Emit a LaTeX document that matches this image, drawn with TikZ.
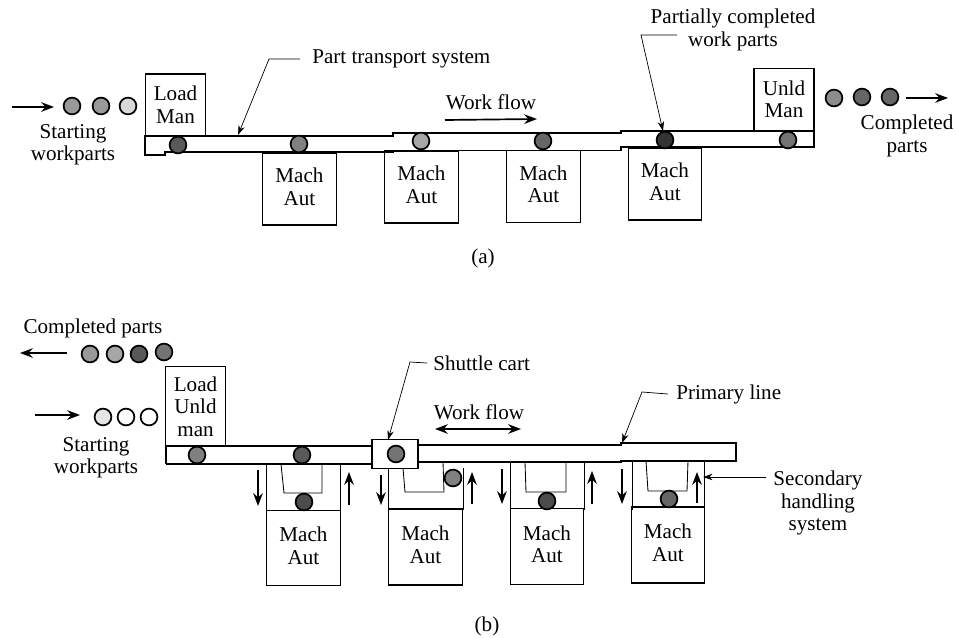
\documentclass[tikz,border=0pt]{standalone}
\usepackage{fontspec}
\setmainfont{Liberation Serif}
\usetikzlibrary{positioning, arrows.meta}

\begin{document}
\begin{tikzpicture}[
    x=0.025cm, y=-0.025cm,
    every node/.style={font=\fontsize{15}{16}\selectfont},
    machbox/.style={rectangle, draw, line width=0.8pt, minimum width=1.84cm, minimum height=#1, inner sep=0pt, align=center, execute at end node=\rule[-3.6pt]{0pt}{0pt}},
    manbox/.style={rectangle, draw, line width=0.8pt, minimum width=1.5cm, minimum height=#1, inner sep=0pt, align=center},
    part/.style={circle, draw, line width=1.2pt, fill=black!#1, minimum size=0.42cm, inner sep=0pt},
    lbl/.style={align=center, inner sep=0pt},
    arr/.style={-{Stealth[length=3.2mm, width=2.4mm]}, line width=1.2pt},
    biarr/.style={{Stealth[length=3.2mm, width=2.4mm]}-{Stealth[length=3.2mm, width=2.4mm]}, line width=1.2pt},
    lead/.style={-{Stealth[length=2.4mm, width=1.6mm]}, line width=0.5pt},
    track/.style={line width=0.8pt},
    rail/.style={line width=0.6pt},
]
\useasboundingbox (0,0) rectangle (956,638);

% (a) in-line
\draw[track] (145,136) -- (393,136) -- (393,133) -- (621,133) -- (621,131) -- (814,131) -- (814,147) -- (621,147) -- (621,150.5) -- (393,150.5) -- (393,152) -- (165,152) -- (165,155) -- (145,155) -- cycle;

\node[manbox=1.55cm] (loadman) at (175.5,105) {Load\\Man};
\node[manbox=1.55cm] (unldman) at (784,99.5) {Unld\\Man};
\node[machbox=1.8cm] (macha1) at (299.5,189) {Mach\\Aut};
\node[machbox=1.8cm] (macha2) at (421.5,187) {Mach\\Aut};
\node[machbox=1.8cm] (macha3) at (543.5,186.5) {Mach\\Aut};
\node[machbox=1.8cm] (macha4) at (665,184) {Mach\\Aut};

\foreach \x/\y/\s [count=\i] in {72/106/40, 101/106/40, 128/106/15, 178/145/65, 299/144/50, 421/141/35, 543/141/60, 665/140/80, 788/140/55, 834/98/45, 862/97/60, 890/97/60}
    \node[part=\s] (parta\i) at (\x,\y) {};

\node[lbl] (startlbla) at (73,145) {Starting\\workparts};
\node[lbl, anchor=west] (tracklbl) at (312,59) {Part transport system};
\node[lbl] (flowlbla) at (491,102) {Work flow};
\node[lbl] (partlbl) at (733,30) {Partially completed\\work parts};
\node[lbl] (donelbla) at (907,136) {Completed\\parts};
\node[lbl] (capa) at (483,258) {(a)};

\coordinate (instarta) at (12,107);
\coordinate (instarta2) at (54,107);
\coordinate (outdonea1) at (906,98);
\coordinate (outdonea) at (948,98);
\coordinate (flowa1) at (445,120);
\coordinate (flowa2) at (537,119);
\coordinate (trackpt) at (238,135);
\coordinate (partjog) at (677,35);
\coordinate (partpt) at (663,131);

\draw[arr] (instarta) -- (instarta2);
\draw[arr] (outdonea1) -- (outdonea);
\draw[arr] (flowa1) -- (flowa2);
\draw[lead] ([xshift=-0.3cm]tracklbl.west) -- (269,59) -- (trackpt);
\draw[lead] (partjog) -- (641,35) -- (partpt);

% (b) with shuttle cart
\draw[track] (166,446) -- (372,446);
\draw[track] (166,464) -- (372,464);
\draw[track] (166,446) -- (166,464);
\draw[track] (418,445) -- (621,445) -- (621,443) -- (736,443) -- (736,461) -- (621,461) -- (621,462) -- (418,462);

\node[manbox=1.98cm] (loadunld) at (195.5,406.5) {Load\\Unld\\man};
\node[rectangle, draw, line width=0.8pt, fill=white, minimum width=1.15cm, minimum height=0.72cm] (cart) at (395,454) {};
\node[machbox=1.88cm] (machb1) at (303.5,548) {Mach\\Aut};
\node[machbox=1.9cm] (machb2) at (425.5,547) {Mach\\Aut};
\node[machbox=1.92cm] (machb3) at (547,546.5) {Mach\\Aut};
\node[machbox=1.9cm] (machb4) at (668,545) {Mach\\Aut};

% transfer loops
\foreach \l/\r/\t in {266/340/464, 388/463/468, 510/584/462, 632/704/461} {
    \draw[rail] (\l,\t) -- (\l,510);
    \draw[rail] (\r,\t) -- (\r,510);
}
\draw[rail] (281,464) -- (284,493) -- (322,493) -- (322,464);
\draw[rail] (403,468) -- (405,492) -- (444,492) -- (443,462);
\draw[rail] (525,462) -- (526,492) -- (566,492) -- (566,462);
\draw[rail] (646,461) -- (648,491) -- (687,491) -- (688,461);

\foreach \x/\y/\s [count=\i] in {90/354/40, 115/354/35, 139/354/65, 164/352/55, 103/417/10, 126/417/0, 149/417/0, 197/455/50, 302/455/65, 396/454/55, 304/502/70, 453/478/50, 547/501/70, 669/499/60}
    \node[part=\s] (partb\i) at (\x,\y) {};

\node[lbl] (donelblb) at (93,328) {Completed parts};
\node[lbl] (startlblb) at (96,458) {Starting\\workparts};
\node[lbl, anchor=west] (cartlbl) at (433,363) {Shuttle cart};
\node[lbl] (flowlblb) at (479,412) {Work flow};
\node[lbl, anchor=west] (linelbl) at (676,394) {Primary line};
\node[lbl] (seclbl) at (818,503) {Secondary\\handling\\system};
\node[lbl] (capb) at (487,626) {(b)};

\coordinate (outdoneb1) at (67,353);
\coordinate (outdoneb) at (20,353);
\coordinate (instartb) at (35,415);
\coordinate (instartb2) at (80,415);
\coordinate (flowb1) at (435,429);
\coordinate (flowb2) at (521,429);
\coordinate (cartpt) at (388,440);
\coordinate (linept) at (622,443);
\coordinate (secjog) at (766,477);
\coordinate (secpt) at (703,477);

\draw[arr] (outdoneb1) -- (outdoneb);
\draw[arr] (instartb) -- (instartb2);
\draw[biarr] (flowb1) -- (flowb2);
\draw[lead] ([xshift=-0.15cm]cartlbl.west) -- (410,362) -- (cartpt);
\draw[lead] ([xshift=-0.2cm]linelbl.west) -- (642,392) -- (linept);
\draw[lead] (secjog) -- (secpt);

% up and down transfer arrows
\foreach \x/\a/\b in {258/470/506, 349/505/472, 381/475/505, 472/504/472, 502/469/504, 592/504/471, 622/469/504, 697/503/472}
    \draw[arr] (\x,\a) -- (\x,\b);

\end{tikzpicture}
\end{document}
